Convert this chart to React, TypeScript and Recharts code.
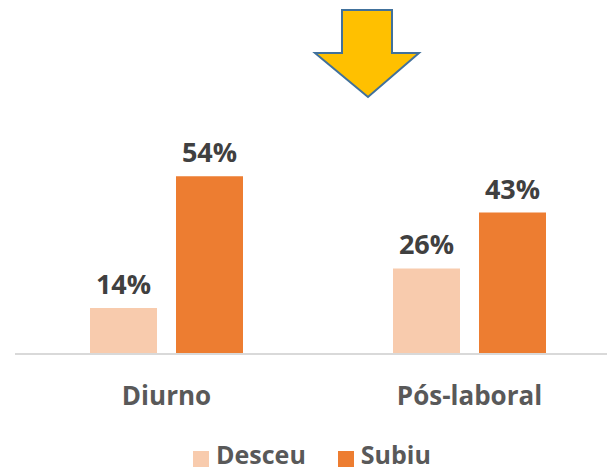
import { BarChart, Bar, XAxis, YAxis, Legend, LabelList } from 'recharts';

const categories = ['Diurno', 'Pós-laboral'];
const desceu = [14, 26];
const subiu = [54, 43];

const seriesColors = {
  desceu: '#f8cbad',
  subiu: '#ed7d31',
};

const chartData = categories.map((name, i) => ({
  name,
  desceu: desceu[i],
  subiu: subiu[i],
}));

const font = '"Open Sans", sans-serif';

function LegendContent() {
  const items = [
    { label: 'Desceu', color: seriesColors.desceu },
    { label: 'Subiu', color: seriesColors.subiu },
  ];
  return (
    <div
      style={{
        height: 40,
        boxSizing: 'border-box',
        paddingTop: 6,
        paddingRight: 12,
        display: 'flex',
        justifyContent: 'center',
        alignItems: 'center',
        gap: 32,
        fontFamily: font,
        fontWeight: 700,
        fontSize: 25,
        color: '#595959',
      }}
    >
      {items.map((it) => (
        <div key={it.label} style={{ display: 'flex', alignItems: 'center', gap: 7 }}>
          <span
            style={{
              width: 16,
              height: 16,
              background: it.color,
              display: 'inline-block',
              position: 'relative',
              top: 5,
            }}
          />
          <span style={{ lineHeight: '30px' }}>{it.label}</span>
        </div>
      ))}
    </div>
  );
}

export default function App() {
  return (
    <div
      style={{
        position: 'absolute',
        left: 0,
        top: 0,
        width: 607,
        height: 471,
        overflow: 'hidden',
        background: '#fff',
      }}
    >
      <BarChart
        width={621}
        height={471}
        data={chartData}
        margin={{ top: 25, right: 0, left: 15, bottom: 0 }}
        barSize={67}
        barGap={19}
      >
        <XAxis
          dataKey="name"
          height={77}
          tickLine={false}
          tickSize={0}
          tickMargin={33}
          axisLine={{ stroke: '#d9d9d9', strokeWidth: 2 }}
          tick={{ fontSize: 26, fontWeight: 700, fill: '#595959', fontFamily: font }}
        />
        <YAxis hide domain={[0, 100]} />
        <Legend verticalAlign="bottom" content={<LegendContent />} />
        <Bar dataKey="desceu" fill={seriesColors.desceu} isAnimationActive={false}>
          <LabelList
            dataKey="desceu"
            position="top"
            offset={14}
            formatter={(v: number) => `${v}%`}
            style={{ fontSize: 27, fontWeight: 700, fill: '#404040', fontFamily: font }}
          />
        </Bar>
        <Bar dataKey="subiu" fill={seriesColors.subiu} isAnimationActive={false}>
          <LabelList
            dataKey="subiu"
            position="top"
            offset={14}
            formatter={(v: number) => `${v}%`}
            style={{ fontSize: 27, fontWeight: 700, fill: '#404040', fontFamily: font }}
          />
        </Bar>
      </BarChart>
      <svg
        width={607}
        height={471}
        style={{ position: 'absolute', left: 0, top: 0, pointerEvents: 'none' }}
      >
        <polygon
          points="342,10 392,10 392,53 419,53 368,97 315,53 342,53"
          fill="#ffc000"
          stroke="#41719c"
          strokeWidth={2}
        />
      </svg>
    </div>
  );
}
